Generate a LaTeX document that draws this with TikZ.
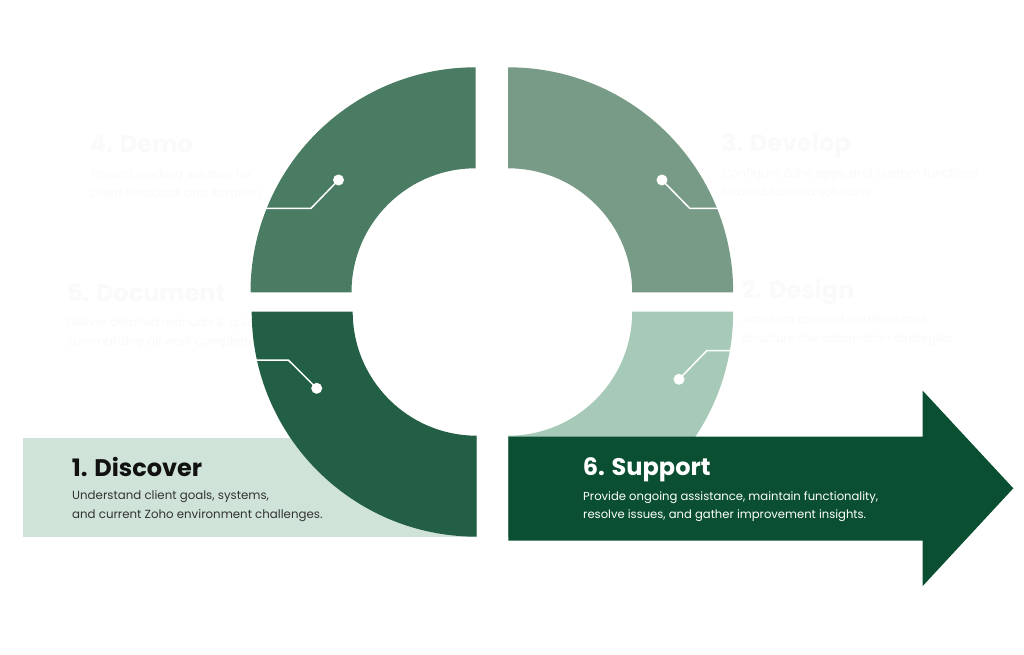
\documentclass[tikz,border=0pt]{standalone}
\usepackage{fontspec}
\setmainfont{Poppins}
\definecolor{cTL}{HTML}{4A7B63}
\definecolor{cTR}{HTML}{789B87}
\definecolor{cBL}{HTML}{225F45}
\definecolor{cBR}{HTML}{A6CAB7}
\definecolor{cArrow}{HTML}{0A4F31}
\definecolor{cBox}{HTML}{CFE3D9}
\definecolor{cTitle}{HTML}{111111}
\definecolor{cBody}{HTML}{333333}
\definecolor{cGhost}{HTML}{FAFAFA}
\newcommand\twoline[2]{\parbox[t]{400pt}{#1\\#2}}
\tikzset{
  ttl/.style={anchor=base west, inner sep=0pt, font=\fontsize{24}{28}\selectfont\bfseries},
  bdy/.style={anchor=base west, inner sep=0pt, font=\fontsize{11.8}{19}\selectfont},
  conn/.style={draw=white, line width=1.5pt},
  dotn/.style={circle, fill=white, inner sep=0pt, minimum size=11pt},
}
\begin{document}
\begin{tikzpicture}[x=1pt, y=-1pt]
\path[use as bounding box, fill=white] (0,0) rectangle (1024,655);

% faint (white) texts, behind the ring
\node[ttl, text=cGhost] (t4) at (90,153) {4. Demo};
\node[bdy, text=cGhost] (s4) at (90,178.5) {\twoline{Present working solution for}{client feedback and iteration.}};
\node[ttl, text=cGhost] (t3) at (721.7,151.7) {3. Develop};
\node[bdy, text=cGhost] (s3) at (722,177.7) {\twoline{Configure Zoho apps and custom functions}{to build tailored solutions.}};
\node[ttl, text=cGhost] (t5) at (66.7,301.7) {5. Document};
\node[bdy, text=cGhost] (s5) at (67,326.7) {\twoline{Deliver detailed manuals \& guides}{summarizing all work completed.}};
\node[ttl, text=cGhost] (t2) at (741.7,298) {2. Design};
\node[bdy, text=cGhost] (s2) at (742,323.3) {\twoline{Architect tailored solutions and}{structure the automation strategies.}};

% discover box
\fill[cBox] (22.7,438.3) rectangle (476.7,536.5);

% ring quadrants
\fill[cTL] (475.5-225,292.3) arc[start angle=180, end angle=270, radius=225]
  -- (475.5,292.3-124) arc[start angle=270, end angle=180, radius=124] -- cycle;
\fill[cTR] (508.2,292.3-225) arc[start angle=270, end angle=360, radius=225]
  -- (508.2+124,292.3) arc[start angle=360, end angle=270, radius=124] -- cycle;
\fill[cBL] (476.7-225,311.7) arc[start angle=180, end angle=90, radius=225]
  -- (476.7,311.7+124) arc[start angle=90, end angle=180, radius=124] -- cycle;
\fill[cBR] (508.2+225,311.7) arc[start angle=0, end angle=90, radius=225]
  -- (508.2,311.7+124) arc[start angle=90, end angle=0, radius=124] -- cycle;

% arrow
\fill[cArrow] (508.3,436.7) -- (922.7,436.7) -- (922.7,390.7) -- (1013.3,488.3)
  -- (922.7,586) -- (922.7,540.7) -- (508.3,540.7) -- cycle;

% connectors
\node[dotn] (d4) at (338.5,180) {};
\coordinate (b4) at (311,208.3);
\coordinate (e4) at (95,208.3);
\draw[conn] (d4.center) -- (b4) -- (e4);

\node[dotn] (d3) at (662,180) {};
\coordinate (b3) at (689.7,208.3);
\coordinate (e3) at (910,208.3);
\draw[conn] (d3.center) -- (b3) -- (e3);

\node[dotn] (d5) at (316.7,388.3) {};
\coordinate (b5) at (288.3,360);
\coordinate (e5) at (70,360);
\draw[conn] (d5.center) -- (b5) -- (e5);

\node[dotn] (d2) at (679,379.3) {};
\coordinate (b2) at (706.7,350.7);
\coordinate (e2) at (927,350.7);
\draw[conn] (d2.center) -- (b2) -- (e2);

% visible texts
\node[ttl, text=cTitle] (t1) at (71.7,476.7) {1. Discover};
\node[bdy, text=cBody] (s1) at (72,499) {\twoline{Understand client goals, systems,}{and current Zoho environment challenges.}};
\node[ttl, text=white] (t6) at (582.7,475.7) {6. Support};
\node[bdy, text=white, font=\fontsize{11.6}{18}\selectfont] (s6) at (583,500.5) {\twoline{Provide ongoing assistance, maintain functionality,}{resolve issues, and gather improvement insights.}};
\end{tikzpicture}
\end{document}
